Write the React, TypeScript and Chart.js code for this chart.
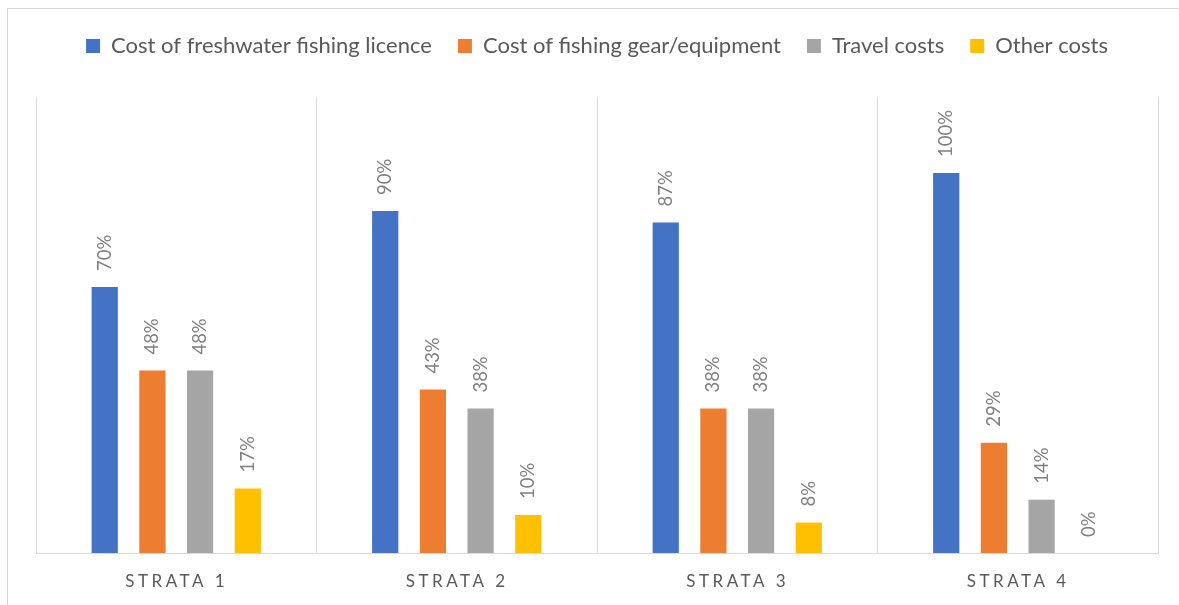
import React, { useEffect, useRef } from "react";
import { Chart, registerables } from "chart.js";

Chart.register(...registerables);

const categories = ["STRATA 1", "STRATA 2", "STRATA 3", "STRATA 4"];
const seriesNames = [
  "Cost of freshwater fishing licence",
  "Cost of fishing gear/equipment",
  "Travel costs",
  "Other costs",
];
const licenceValues = [70, 90, 87, 100];
const gearValues = [48, 43, 38, 29];
const travelValues = [48, 38, 38, 14];
const otherValues = [17, 10, 8, 0];
const seriesColors = ["#4472C4", "#ED7D31", "#A5A5A5", "#FFC000"];
const yMax = 120;

const FONT = "Lato, 'Open Sans', sans-serif";

const valueLabelPlugin = {
  id: "valueLabels",
  afterDatasetsDraw(chart: any) {
    const ctx = chart.ctx;
    ctx.save();
    ctx.font = `18.5px ${FONT}`;
    ctx.fillStyle = "#7F7F7F";
    chart.data.datasets.forEach((ds: any, i: number) => {
      const meta = chart.getDatasetMeta(i);
      meta.data.forEach((bar: any, j: number) => {
        const v = ds.data[j];
        ctx.save();
        ctx.translate(bar.x, bar.y - 16);
        ctx.rotate(-Math.PI / 2);
        ctx.textAlign = "left";
        ctx.textBaseline = "middle";
        ctx.fillText(`${v}%`, 0, 0);
        ctx.restore();
      });
    });
    ctx.restore();
  },
};

const categoryLabelPlugin = {
  id: "categoryLabels",
  afterDraw(chart: any) {
    const ctx = chart.ctx;
    const xScale = chart.scales.x;
    ctx.save();
    ctx.font = `17px ${FONT}`;
    ctx.fillStyle = "#595959";
    ctx.textAlign = "center";
    ctx.textBaseline = "middle";
    try {
      (ctx as any).letterSpacing = "3.5px";
    } catch (e) {}
    categories.forEach((c, i) => {
      const x = xScale.getPixelForValue(i);
      ctx.fillText(c, x + 0.5, chart.chartArea.bottom + 29);
    });
    ctx.restore();
  },
};

const legendSpacerPlugin = {
  id: "legendSpacer",
  beforeInit(chart: any) {
    const legend = chart.legend;
    if (!legend) return;
    const origFit = legend.fit;
    legend.fit = function () {
      origFit.call(this);
      this.height += 30;
    };
  },
};

export default function App() {
  const canvasRef = useRef<HTMLCanvasElement | null>(null);

  useEffect(() => {
    if (!canvasRef.current) return;
    const allValues = [licenceValues, gearValues, travelValues, otherValues];
    const chart = new Chart(canvasRef.current, {
      type: "bar",
      data: {
        labels: categories,
        datasets: seriesNames.map((name, i) => ({
          label: name,
          data: allValues[i],
          backgroundColor: seriesColors[i],
          borderWidth: 0,
          categoryPercentage: 0.68,
          barPercentage: 0.55,
        })),
      },
      options: {
        animation: false,
        responsive: false,
        devicePixelRatio: 1,
        layout: { padding: { top: 9, left: 36, right: 21, bottom: 52 } },
        plugins: {
          legend: {
            position: "top",
            align: "center",
            labels: {
              boxWidth: 14,
              boxHeight: 14,
              padding: 26,
              color: "#595959",
              font: { family: FONT, size: 22 },
            },
          },
          tooltip: { enabled: false },
        },
        scales: {
          x: {
            offset: true,
            grid: {
              display: true,
              offset: true,
              color: "#D9D9D9",
              lineWidth: 1,
              drawTicks: false,
            },
            border: { display: true, color: "#D9D9D9", width: 1 },
            ticks: { display: false },
          },
          y: {
            display: false,
            min: 0,
            max: yMax,
          },
        },
      },
      plugins: [legendSpacerPlugin, valueLabelPlugin, categoryLabelPlugin],
    });
    return () => chart.destroy();
  }, []);

  return (
    <div
      style={{
        position: "fixed",
        left: 0,
        top: 0,
        width: 1179,
        height: 605,
        background: "#FFFFFF",
        overflow: "hidden",
      }}
    >
      <div
        style={{
          position: "absolute",
          left: 7,
          top: 8,
          width: 1300,
          height: 800,
          border: "1px solid #D9D9D9",
          boxSizing: "border-box",
          pointerEvents: "none",
        }}
      />
      <canvas
        ref={canvasRef}
        width={1179}
        height={605}
        style={{ position: "absolute", left: 0, top: 0, width: 1179, height: 605 }}
      />
    </div>
  );
}
